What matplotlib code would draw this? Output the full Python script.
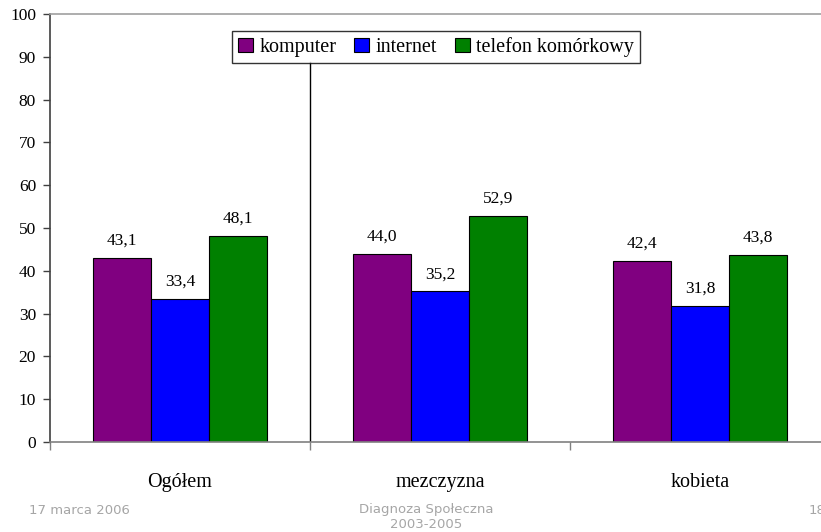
import matplotlib
matplotlib.use("Agg")
import matplotlib.pyplot as plt
import numpy as np

categories = ["Ogółem", "mezczyzna", "kobieta"]
series_names = ["komputer", "internet", "telefon komórkowy"]
komputer = [43.1, 44.0, 42.4]
internet = [33.4, 35.2, 31.8]
telefon = [48.1, 52.9, 43.8]
colors = ["#800080", "#0000FF", "#008000"]
y_ticks = list(range(0, 101, 10))

plt.rcParams['font.family'] = ['Liberation Serif', 'DejaVu Serif']

fig = plt.figure(figsize=(8.21, 5.32), dpi=100)
ax = fig.add_axes([50/821, 90/532, 780/821, 428/532])

x = np.arange(len(categories))
w = 0.223
for i, (vals, name, c) in enumerate(zip([komputer, internet, telefon], series_names, colors)):
    bars = ax.bar(x + (i - 1) * w, vals, w, color=c, edgecolor="black", linewidth=0.8, label=name)
    for b, v in zip(bars, vals):
        ax.annotate(f"{v:.1f}".replace(".", ","), (b.get_x() + b.get_width() / 2, v),
                    xytext=(0, 6.5), textcoords="offset points", ha="center", va="bottom",
                    fontsize=12.5)

ax.set_xlim(-0.5, len(categories) - 0.5)
ax.set_ylim(0, 100)
ax.set_yticks(y_ticks)
ax.tick_params(axis="y", labelsize=12.5, length=5, width=1, color="#404040", pad=5)
ax.set_xticks(x)
ax.set_xticklabels(categories, fontsize=14.5)
ax.tick_params(axis="x", which="major", length=0, pad=22)
ax.set_xticks(np.arange(len(categories) + 1) - 0.5, minor=True)
ax.tick_params(axis="x", which="minor", length=6, width=1, color="#808080")

ax.spines["left"].set_color("#404040")
ax.spines["left"].set_linewidth(1.2)
ax.spines["bottom"].set_color("#808080")
ax.spines["bottom"].set_linewidth(1.2)
ax.spines["top"].set_color("#a0a0a0")
ax.spines["top"].set_linewidth(1.2)
ax.spines["right"].set_visible(False)

ax.axvline(0.5, ymin=0, ymax=0.888, color="black", linewidth=1)

leg = ax.legend(loc="center", bbox_to_anchor=(436/821, 1 - 47/532), bbox_transform=fig.transFigure,
                ncol=3, frameon=True, fancybox=False, edgecolor="black", fontsize=14.5,
                handlelength=0.75, handleheight=0.75, handletextpad=0.3, columnspacing=0.9,
                borderpad=0.3, borderaxespad=0)
leg.get_frame().set_linewidth(1)

footer_kw = dict(family="DejaVu Sans", color="#a6a6a6", fontsize=9.5)
fig.text(29/821, 1 - 510/532, "17 marca 2006", ha="left", va="center", **footer_kw)
fig.text(426/821, 1 - 510/532, "Diagnoza Społeczna", ha="center", va="center", **footer_kw)
fig.text(426/821, 1 - 524/532, "2003-2005", ha="center", va="center", **footer_kw)
fig.text(809/821, 1 - 510/532, "18", ha="left", va="center", **footer_kw)

fig.savefig("out.png", dpi=100)
